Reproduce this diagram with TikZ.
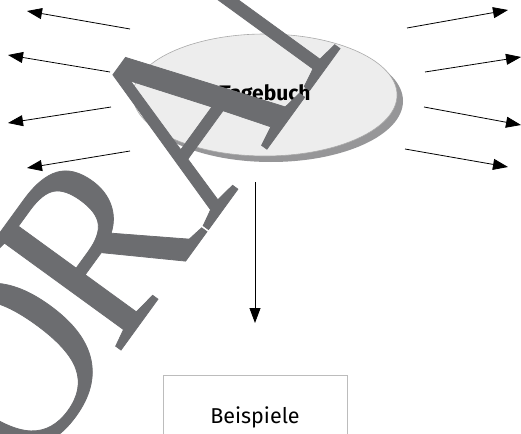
\documentclass[tikz,border=0pt]{standalone}
\usepackage{fontspec}
\setsansfont{Fira Sans}
\newfontfamily\wmfont[FakeBold=0.3,FakeStretch=0.91]{Liberation Serif}
\usetikzlibrary{arrows.meta,shapes.geometric,shadows}
\definecolor{wmgray}{RGB}{108,109,112}
\definecolor{ellfill}{RGB}{237,237,237}
\definecolor{ellline}{RGB}{170,170,170}
\definecolor{shadowgray}{RGB}{150,150,152}
\definecolor{boxline}{RGB}{188,188,188}
\begin{document}
\begin{tikzpicture}[x=1pt,y=-1pt,
  ray/.style={draw=black, line width=0.8pt, -{Triangle[length=15pt,width=11pt]}},
  ellnode/.style={ellipse, draw=ellline, line width=0.6pt, fill=ellfill, inner sep=0pt,
    minimum width=264pt, minimum height=122pt,
    drop shadow={shadow xshift=6pt, shadow yshift=-6pt, fill=shadowgray, opacity=1},
    font=\sffamily\bfseries\fontsize{21}{21}\selectfont},
  boxnode/.style={rectangle, draw=boxline, line width=1pt, fill=white, inner sep=0pt,
    minimum width=184pt, minimum height=85.5pt,
    font=\sffamily\fontsize{21.5}{21.5}\selectfont},
  wm/.style={text=wmgray, inner sep=0pt, font=\wmfont\fontsize{255}{255}\selectfont}
]
\useasboundingbox (0,0) rectangle (521,433);
\fill[white] (0,0) rectangle (521,433);

\node[ellnode] (tb) at (265,95) {Tagebuch};

\coordinate (l1s) at (130,29);  \coordinate (l1e) at (27,11);
\coordinate (l2s) at (110,72);  \coordinate (l2e) at (8,55);
\coordinate (l3s) at (111,107); \coordinate (l3e) at (8,123);
\coordinate (l4s) at (130,151); \coordinate (l4e) at (27,168);
\coordinate (r1s) at (407,28);  \coordinate (r1e) at (508,10);
\coordinate (r2s) at (425,72);  \coordinate (r2e) at (521,57);
\coordinate (r3s) at (424,107); \coordinate (r3e) at (521,125);
\coordinate (r4s) at (405,149); \coordinate (r4e) at (508,167);

\draw[ray] (l1s) -- (l1e);
\draw[ray] (l2s) -- (l2e);
\draw[ray] (l3s) -- (l3e);
\draw[ray] (l4s) -- (l4e);
\draw[ray] (r1s) -- (r1e);
\draw[ray] (r2s) -- (r2e);
\draw[ray] (r3s) -- (r3e);
\draw[ray] (r4s) -- (r4e);

\node[boxnode] (bsp) at (255,417.75) {Beispiele};
\coordinate (ds) at (255,182);
\coordinate (de) at (255,323);
\draw[ray] (ds) -- (de);

\node[wm, rotate=54, anchor=base west] (wmtext) at (-73.9,618.3) {VO\kern-12pt RANSICHT};
\end{tikzpicture}
\end{document}
